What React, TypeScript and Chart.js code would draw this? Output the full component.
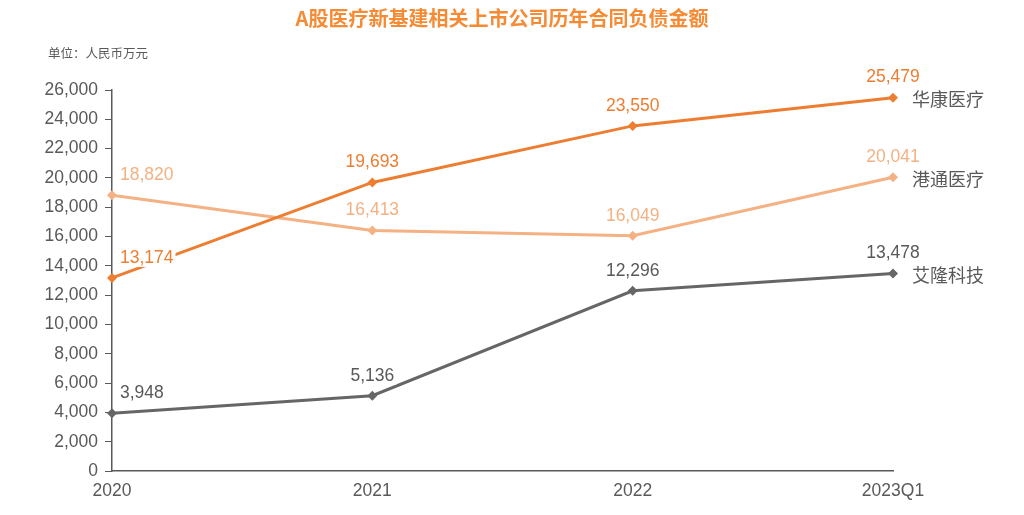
import React, { useEffect, useRef } from "react";
import { Chart, registerables } from "chart.js";

Chart.register(...registerables);

const categories = ["2020", "2021", "2022", "2023Q1"];
const seriesNames = ["华康医疗", "港通医疗", "艾隆科技"];
const huakang = [13174, 19693, 23550, 25479];
const gangtong = [18820, 16413, 16049, 20041];
const ailong = [3948, 5136, 12296, 13478];
const lineColors = ["#ED7D31", "#F4B183", "#666666"];
const labelColors = ["#ED7D31", "#F4B183", "#595959"];
const titleText = "A股医疗新基建相关上市公司历年合同负债金额";
const unitText = "单位：人民币万元";

const FONT = "'Liberation Sans', Arial, 'Noto Sans CJK SC', sans-serif";
const CJK = "'Noto Sans CJK SC', 'Liberation Sans', sans-serif";

const labelPlugin = {
  id: "customLabels",
  afterDatasetsDraw(chart: any) {
    const ctx = chart.ctx;
    ctx.save();
    ctx.font = `bold 20px ${CJK}`;
    ctx.fillStyle = "#F58B35";
    ctx.textAlign = "center";
    ctx.textBaseline = "middle";
    ctx.fillText(titleText, 502, 18);
    ctx.font = `12.5px ${CJK}`;
    ctx.fillStyle = "#595959";
    ctx.textAlign = "left";
    ctx.fillText(unitText, 48, 53);

    chart.data.datasets.forEach((ds: any, di: number) => {
      const meta = chart.getDatasetMeta(di);
      meta.data.forEach((pt: any, i: number) => {
        const v = ds.data[i] as number;
        const txt = v.toLocaleString("en-US");
        ctx.font = `17.5px ${FONT}`;
        const w = ctx.measureText(txt).width;
        const y = pt.y - 20;
        let left = pt.x - w / 2;
        if (i === 0) {
          left = pt.x + 8;
        }
        ctx.fillStyle = "#ffffff";
        ctx.fillRect(left - 2, y - 9, w + 4, 18);
        ctx.fillStyle = labelColors[di];
        ctx.textAlign = "left";
        ctx.textBaseline = "middle";
        ctx.fillText(txt, left, y);
        if (i === meta.data.length - 1) {
          ctx.font = `18px ${CJK}`;
          ctx.fillStyle = "#595959";
          ctx.fillText(seriesNames[di], pt.x + 19, pt.y + 2);
        }
      });
    });
    ctx.restore();
  },
};

export default function App() {
  const ref = useRef<HTMLCanvasElement | null>(null);
  useEffect(() => {
    document.body.style.margin = "0";
    const datasets = [huakang, gangtong, ailong].map((d, i) => ({
      label: seriesNames[i],
      data: d,
      borderColor: lineColors[i],
      backgroundColor: lineColors[i],
      borderWidth: 3,
      pointStyle: "rectRot" as const,
      pointRadius: 5,
      pointBorderWidth: 0,
      tension: 0,
    }));
    const chart = new Chart(ref.current as HTMLCanvasElement, {
      type: "line",
      data: { labels: categories, datasets },
      options: {
        animation: false,
        responsive: false,
        layout: { padding: { top: 90, right: 131, bottom: 0, left: 0 } },
        plugins: {
          legend: { display: false },
          tooltip: { enabled: false },
        },
        scales: {
          x: {
            offset: false,
            grid: { display: false, drawTicks: false },
            border: { display: true, color: "#595959", width: 1.5 },
            ticks: {
              color: "#595959",
              font: { size: 17.5, family: FONT },
              padding: 10,
              maxRotation: 0,
            },
            afterFit: (s: any) => {
              s.height = 44;
            },
          },
          y: {
            min: 0,
            max: 26000,
            grid: {
              drawOnChartArea: false,
              drawTicks: true,
              tickLength: 7,
              color: "#595959",
            },
            border: { display: true, color: "#595959", width: 1.5 },
            ticks: {
              stepSize: 2000,
              color: "#595959",
              font: { size: 17.5, family: FONT },
              padding: 7,
              callback: (v: any) => Number(v).toLocaleString("en-US"),
            },
            afterFit: (s: any) => {
              s.width = 112;
            },
          },
        },
      },
      plugins: [labelPlugin],
    });
    return () => chart.destroy();
  }, []);
  return (
    <div style={{ width: 1024, height: 515, background: "#fff" }}>
      <canvas ref={ref} width={1024} height={515} />
    </div>
  );
}
